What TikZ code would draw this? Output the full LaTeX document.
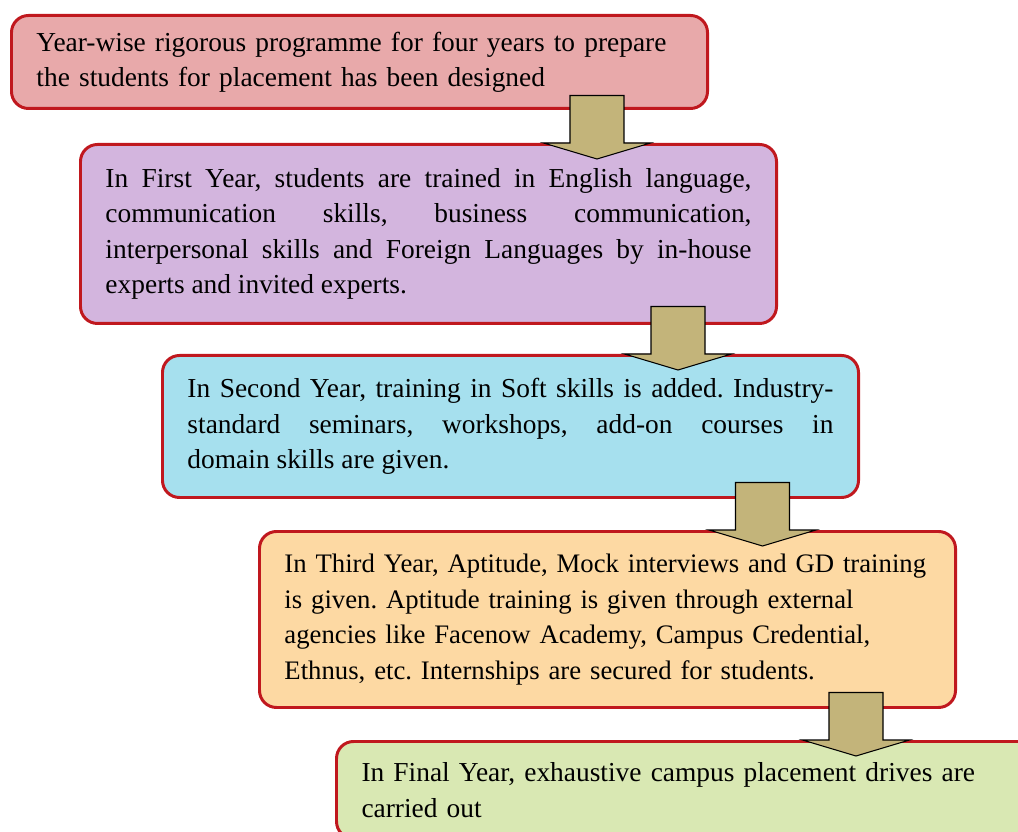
\documentclass[tikz,border=0pt]{standalone}
\usepackage{fontspec}
\setmainfont{Liberation Serif}
\usetikzlibrary{calc,positioning}

\definecolor{boxred}{RGB}{192,24,30}
\definecolor{pinkbox}{RGB}{232,169,170}
\definecolor{purplebox}{RGB}{211,181,222}
\definecolor{cyanbox}{RGB}{166,224,238}
\definecolor{peachbox}{RGB}{253,217,163}
\definecolor{greenbox}{RGB}{217,232,179}
\definecolor{khaki}{RGB}{195,180,122}

\begin{document}
\begin{tikzpicture}[
  stage/.style={draw=boxred, line width=1.7pt, rounded corners=0.34cm, anchor=north west,
    text width=12.92cm, inner xsep=0.5cm, inner ysep=0pt, minimum width=13.92cm,
    font=\fontsize{15.6}{20.1}\selectfont\frenchspacing},
  blockarrow/.style={fill=khaki, draw=black, line width=0.6pt}
]
\clip (0,0) rectangle (20.36,-16.64);

% the four years, one box each
\node[stage, fill=pinkbox, minimum height=1.86cm, align=left] (b1) at (0.20,-0.28)
  {Year-wise rigorous programme for four years to prepare\\the students for placement has been designed};
\node[stage, fill=purplebox, minimum height=3.58cm, align=justify] (b2) at (1.58,-2.86)
  {In First Year, students are trained in English language,\linebreak communication skills, business communication,\linebreak interpersonal skills and Foreign Languages by in-house\linebreak experts and invited experts.};
\node[stage, fill=cyanbox, minimum height=2.84cm, align=justify] (b3) at (3.22,-7.08)
  {In Second Year, training in Soft skills is added. Industry-\linebreak standard seminars, workshops, add-on courses in\linebreak domain skills are given.};
\node[stage, fill=peachbox, minimum height=3.52cm, align=left,
  font=\fontsize{15.2}{20.3}\selectfont\frenchspacing] (b4) at (5.16,-10.60)
  {\mbox{In Third Year, Aptitude, Mock interviews and GD training}\\is given. Aptitude training is given through external\\agencies like Facenow Academy, Campus Credential,\\Ethnus, etc. Internships are secured for students.};
\node[stage, fill=greenbox, minimum height=1.94cm, minimum width=14.5cm, text width=13.5cm, align=left] (b5) at (6.70,-14.80)
  {In Final Year, exhaustive campus placement drives are\\carried out};

% block arrows between the boxes
\foreach \u/\l/\dx in {b1/b2/2.24, b2/b3/2.00, b3/b4/1.95, b4/b5/2.02}{
  \path ($(\u.south east)+(-\dx,0)$) coordinate (t) (t |- \l.north) coordinate (h);
  \filldraw[blockarrow] ($(h)+(-0.54,0.95)$) -- ($(h)+(0.54,0.95)$) -- ($(h)+(0.54,0)$)
    -- ($(h)+(1.07,0)$) -- ($(h)+(0,-0.32)$) -- ($(h)+(-1.07,0)$) -- ($(h)+(-0.54,0)$) -- cycle;
}
\end{tikzpicture}
\end{document}
